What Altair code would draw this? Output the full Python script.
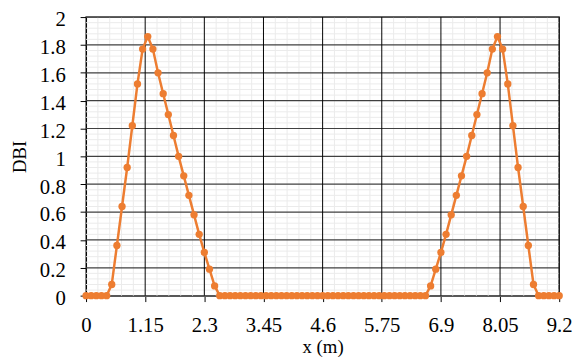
import altair as alt
import pandas as pd

dbi = [
    0, 0, 0, 0, 0,
    0.08, 0.36, 0.64, 0.92, 1.22, 1.52, 1.77, 1.86, 1.77, 1.60, 1.45,
    1.30, 1.15, 1.00, 0.86, 0.72, 0.58, 0.44, 0.31, 0.19, 0.07,
    0, 0, 0, 0, 0, 0, 0, 0, 0, 0,
    0, 0, 0, 0, 0, 0, 0, 0, 0, 0,
    0, 0, 0, 0, 0, 0, 0, 0, 0, 0,
    0, 0, 0, 0, 0, 0, 0, 0, 0, 0,
    0,
    0.07, 0.19, 0.31, 0.44, 0.58, 0.72, 0.86, 1.00, 1.15, 1.30,
    1.45, 1.60, 1.77, 1.86, 1.77, 1.52, 1.22, 0.92, 0.64, 0.36, 0.08,
    0, 0, 0, 0, 0,
]
x_vals = [round(0.1 * i, 1) for i in range(len(dbi))]

x_ticks = [0, 1.15, 2.3, 3.45, 4.6, 5.75, 6.9, 8.05, 9.2]
y_ticks = [0, 0.2, 0.4, 0.6, 0.8, 1, 1.2, 1.4, 1.6, 1.8, 2]
x_minor = [round(0.23 * i, 2) for i in range(41) if i % 5 != 0]
y_minor = [round(0.04 * i, 2) for i in range(51) if i % 5 != 0]

df = pd.DataFrame({"x": x_vals, "dbi": dbi})

FONT = "Liberation Serif"
ORANGE = "#ED7D31"

xs = alt.Scale(domain=[0, 9.2], nice=False, zero=False)
ys = alt.Scale(domain=[0, 2], nice=False)

minor_x = alt.Chart(pd.DataFrame({"v": x_minor})).mark_rule(color="#ebebeb", strokeWidth=1).encode(
    x=alt.X("v:Q", scale=xs, axis=None))
minor_y = alt.Chart(pd.DataFrame({"v": y_minor})).mark_rule(color="#ebebeb", strokeWidth=1).encode(
    y=alt.Y("v:Q", scale=ys, axis=None))
major_y = alt.Chart(pd.DataFrame({"v": y_ticks[1:]})).mark_rule(color="#404040", strokeWidth=1.2).encode(
    y=alt.Y("v:Q", scale=ys, axis=None))
major_x = alt.Chart(pd.DataFrame({"v": x_ticks[1:]})).mark_rule(color="#000000", strokeWidth=1).encode(
    x=alt.X("v:Q", scale=xs, axis=None))

line = alt.Chart(df).mark_line(color=ORANGE, strokeWidth=2.5, point=alt.OverlayMarkDef(color=ORANGE, size=55, filled=True, opacity=1)).encode(
    x=alt.X("x:Q", scale=xs, axis=alt.Axis(values=x_ticks, orient="bottom", grid=False,
            tickColor="#000000", tickSize=6, domainColor="#595959", domainWidth=1.5,
            labelFont=FONT, labelFontSize=21, labelColor="#000000", labelPadding=13,
            labelExpr="datum.value == 0 ? '0' : format(datum.value, '.3~f')", labelFlush=False,
            title="x (m)", titleFont=FONT, titleFontSize=19, titleFontWeight="normal",
            titleColor="#000000", titlePadding=3)),
    y=alt.Y("dbi:Q", scale=ys, axis=alt.Axis(values=y_ticks, orient="left", grid=False,
            tickColor="#000000", tickSize=6, domainColor="#000000",
            labelFont=FONT, labelFontSize=21, labelColor="#000000", labelPadding=15,
            labelOffset=3, labelExpr="format(datum.value, '~g')",
            title="DBI", titleFont=FONT, titleFontSize=19, titleFontWeight="normal",
            titleColor="#000000", titlePadding=10)),
)

chart = alt.layer(minor_x, minor_y, major_y, major_x, line).resolve_axis(
    x="independent", y="independent"
).properties(
    width=479, height=282,
    autosize=alt.AutoSizeParams(type="none"),
    padding={"left": 79, "top": 7, "right": 17, "bottom": 66},
).configure_view(stroke="#595959", strokeWidth=1.5).configure_axis(
    labelFlush=False, labelFont=FONT, titleFont=FONT
)

chart.save("out.html", embed_options={"renderer": "svg", "actions": False})
